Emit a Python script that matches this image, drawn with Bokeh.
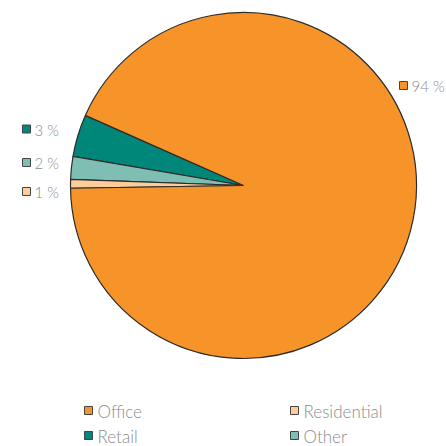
from bokeh.plotting import figure
from bokeh.models import ColumnDataSource, Range1d
from bokeh.core.properties import value
from bokeh.embed import file_html
from bokeh.resources import INLINE
import math

# Data (order counter-clockwise from the upper-left edge of Retail)
categories = ["Retail", "Other", "Residential", "Office"]
shares = [3.94, 2.14, 0.81, 93.11]
colors = ["#00877A", "#7FBFB3", "#FDCD9B", "#F6942A"]
slice_labels = ["3 %", "2 %", "1 %", "94 %"]

legend_names = ["Office", "Residential", "Retail", "Other"]
legend_colors = ["#F6942A", "#FDCD9B", "#00877A", "#7FBFB3"]

W = H = 446
p = figure(width=W, height=H, output_backend="svg", toolbar_location=None,
           x_range=Range1d(0, W), y_range=Range1d(0, H), min_border=0)
p.axis.visible = False
p.grid.visible = False
p.outline_line_color = None
p.background_fill_color = "white"

cx, cy, r = 243, H - 185, 173
start0 = math.radians(156.1)
total = sum(shares)
starts, ends = [], []
a = start0
for s in shares:
    starts.append(a)
    a += s / total * 2 * math.pi
    ends.append(a)

src = ColumnDataSource(dict(cat=categories, start=starts, end=ends, color=colors))
p.wedge(x=cx, y=cy, radius=r, start_angle="start", end_angle="end",
        fill_color="color", line_color="#2b2b2b", line_width=1.2, source=src)

font = value("'Lato Light', 'Open Sans Light', 'Open Sans'")
txt_color = "#8c8c8c"

# slice labels: (marker x, y-screen)
lab_pos = {"Retail": (26, 128.5), "Other": (26, 162), "Residential": (26, 191), "Office": (403, 85)}
mx = [lab_pos[c][0] for c in categories]
my = [H - lab_pos[c][1] for c in categories]
p.scatter(x=mx, y=my, marker="square", size=8, fill_color=colors,
          line_color="#444444", line_width=1)
p.text(x=[v + 8 for v in mx], y=[v - 0.5 for v in my], text=slice_labels, text_font=font,
       text_font_size="15px", text_color=txt_color, text_baseline="middle", text_align="left")

# legend
leg_pos = [(88, 410), (294, 410), (88, 435), (294, 435)]
lx = [q[0] for q in leg_pos]
ly = [H - q[1] for q in leg_pos]
p.scatter(x=lx, y=ly, marker="square", size=8, fill_color=legend_colors,
          line_color="#444444", line_width=1)
p.text(x=[v + 9 for v in lx], y=[v - 0.5 for v in ly], text=legend_names, text_font=font,
       text_font_size="17px", text_color=txt_color, text_baseline="middle", text_align="left")

open("out.html", "w").write(file_html(p, INLINE))
